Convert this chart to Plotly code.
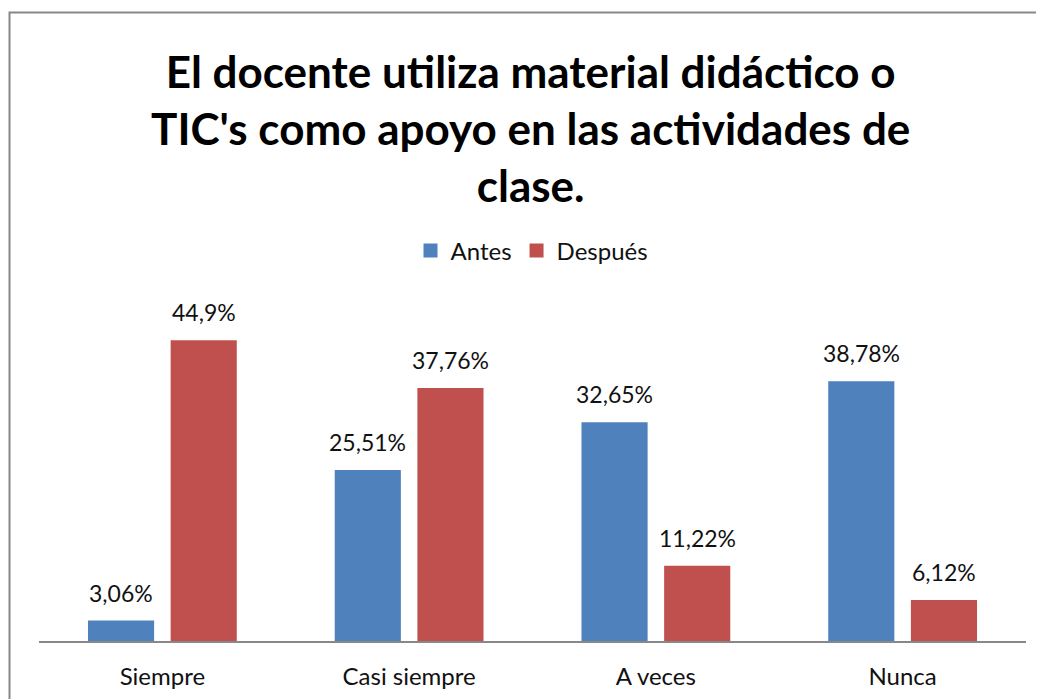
import plotly.graph_objects as go

categories = ["Siempre", "Casi siempre", "A veces", "Nunca"]
antes = [3.06, 25.51, 32.65, 38.78]
despues = [44.9, 37.76, 11.22, 6.12]
series_names = ["Antes", "Después"]
title_text = "El docente utiliza material didáctico o<br>TIC's como apoyo en las actividades de<br>clase."

def fmt(v):
    return f"{v:g}".replace(".", ",") + "%"

FONT = "Lato"
# page body has an 8px margin; figure sized to fit the 1044x699 window
W, H = 1036, 691
ml, mr, mt, mb = 31, 18, 298, 58
pw = W - ml - mr
ph = H - mt - mb
BARGAP, GROUPGAP = 0.33, 0.2

def px_to_paper_y(fy):
    return 1 + (mt - fy) / ph

def px_to_paper_x(fx):
    return (fx - ml) / pw

fig = go.Figure()
colors = ["#4F81BD", "#C0504D"]
for name, vals, col in zip(series_names, [antes, despues], colors):
    fig.add_trace(go.Bar(
        x=categories, y=vals, name=name, showlegend=False, legendgroup=name,
        marker=dict(color=col, line=dict(width=0)),
        cliponaxis=False,
    ))
# legend entries with square swatches
for name, col in zip(series_names, colors):
    fig.add_trace(go.Scatter(
        x=[None], y=[None], name=name, mode="markers", legendgroup=name,
        marker=dict(symbol="square", size=14, color=col),
    ))

# data labels above each bar
cat_w = pw / len(categories)
slot = cat_w * (1 - BARGAP) / 2
annotations = []
for i, vals in enumerate([antes, despues]):
    shift = (i - 0.5) * slot
    for c, v in zip(categories, vals):
        annotations.append(dict(
            x=c, y=v, xref="x", yref="y", text=fmt(v), showarrow=False,
            xshift=shift, yshift=12, yanchor="bottom",
            font=dict(family=FONT, size=23, color="#111"),
        ))

annotations.append(dict(
    text=title_text, showarrow=False, xref="paper", yref="paper",
    x=px_to_paper_x(522), y=px_to_paper_y(35), xanchor="center", yanchor="top",
    font=dict(family=FONT, size=44, color="#000", weight="bold"),
))

fig.update_layout(
    width=W, height=H,
    margin=dict(l=ml, r=mr, t=mt, b=mb, autoexpand=False),
    paper_bgcolor="white", plot_bgcolor="white",
    barmode="group", bargap=BARGAP, bargroupgap=GROUPGAP,
    legend=dict(orientation="h", x=524 / W, xref="container", xanchor="center",
                y=1 - 243 / H, yref="container", yanchor="middle",
                font=dict(family=FONT, size=24, color="#111"), itemwidth=30),
    yaxis=dict(range=[0, 50], visible=False),
    xaxis=dict(showline=True, linecolor="#888", linewidth=2, ticks="",
               ticklabelstandoff=13,
               tickfont=dict(family=FONT, size=24, color="#111")),
    font=dict(family=FONT),
    annotations=annotations,
    shapes=[dict(type="rect", xref="paper", yref="paper",
                 x0=px_to_paper_x(1.5), x1=px_to_paper_x(W + 20),
                 y0=px_to_paper_y(H + 20), y1=px_to_paper_y(4.5),
                 line=dict(color="#888", width=2), fillcolor="rgba(0,0,0,0)", layer="below")],
)

fig.write_html("out.html")
